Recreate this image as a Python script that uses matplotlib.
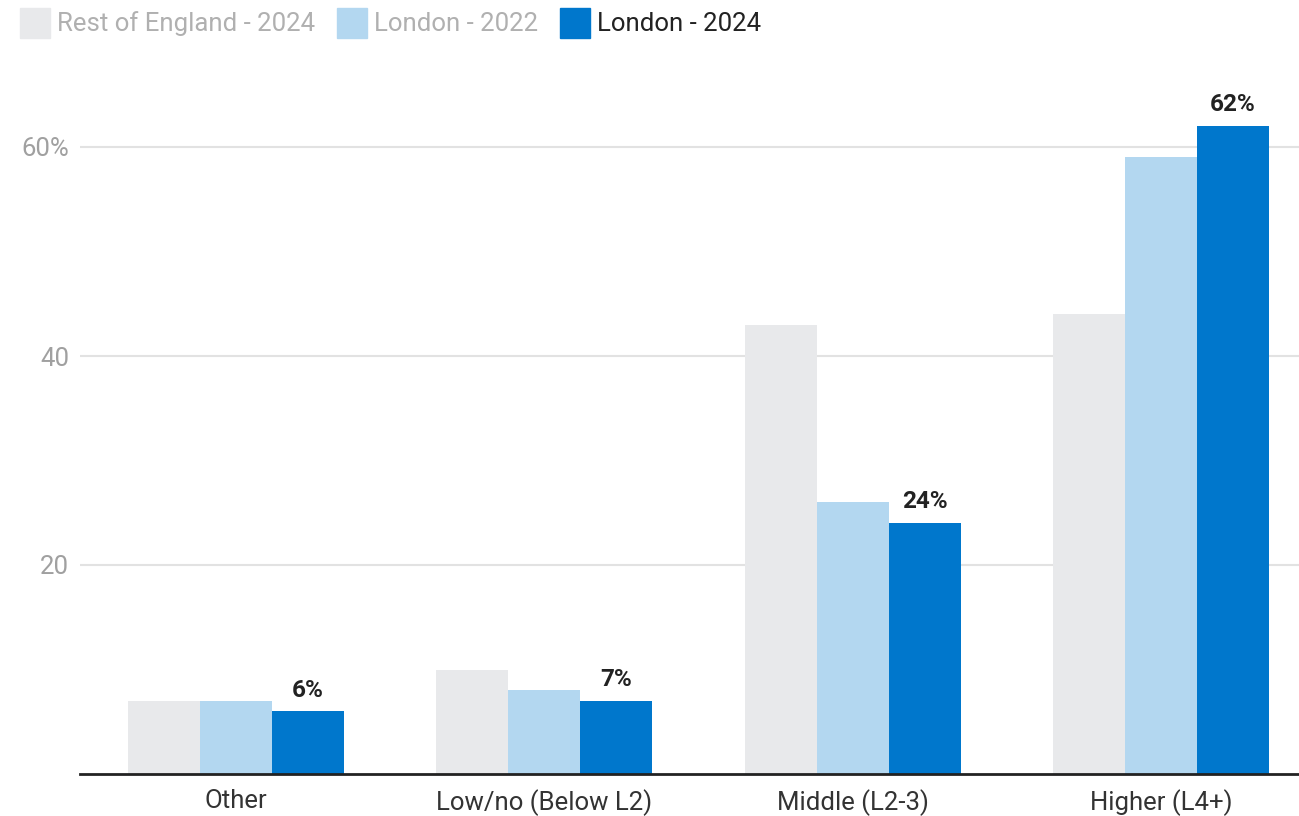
import matplotlib
matplotlib.use("Agg")
import matplotlib.pyplot as plt
from matplotlib.patches import Rectangle
import numpy as np

categories = ["Other", "Low/no (Below L2)", "Middle (L2-3)", "Higher (L4+)"]
series_names = ["Rest of England - 2024", "London - 2022", "London - 2024"]
rest_2024 = [7, 10, 43, 44]
london_2022 = [7, 8, 26, 59]
london_2024 = [6, 7, 24, 62]
yticks = [20, 40, 60]
ytick_labels = ["20", "40", "60%"]

colors = ["#e8e9eb", "#b3d7f0", "#0077cc"]
legend_text_colors = ["#b0b0b0", "#b0b0b0", "#222222"]

plt.rcParams['font.family'] = ['Roboto', 'DejaVu Sans']

W, H = 1299, 816
fig = plt.figure(figsize=(W / 100, H / 100), dpi=100)
ax_left = 80 / W
ax_bottom = (H - 774) / H
ax_top_px = 774 - 66 * 10.45
ax = fig.add_axes([ax_left, ax_bottom, 1 - ax_left, (774 - ax_top_px) / H])

x = np.arange(len(categories))
bw = 0.2335
for i, (vals, c) in enumerate(zip([rest_2024, london_2022, london_2024], colors)):
    ax.bar(x + (i - 1) * bw, vals, width=bw, color=c, zorder=2, linewidth=0)

for xi, v in zip(x, london_2024):
    ax.annotate(f"{v}%", (xi + bw, v), xytext=(0, 7), textcoords="offset points",
                ha="center", va="bottom", fontsize=17.5, fontweight="bold", color="#222222")

ax.set_xlim(-0.506, 3.448)
ax.set_ylim(0, 66)
ax.set_yticks(yticks)
ax.set_yticklabels(ytick_labels)
ax.set_xticks(x)
ax.set_xticklabels(categories)
ax.tick_params(axis="y", length=0, pad=8, labelsize=18.5, labelcolor="#a0a0a0")
ax.tick_params(axis="x", length=0, pad=11, labelsize=18.5, labelcolor="#333333")
ax.grid(axis="y", color="#e2e2e2", linewidth=1.5, zorder=0)
ax.set_axisbelow(True)
for s in ["top", "right", "left"]:
    ax.spines[s].set_visible(False)
ax.spines["bottom"].set_color("#222222")
ax.spines["bottom"].set_linewidth(2)
ax.spines["bottom"].set_zorder(3)

# legend
sq_x = [20, 337, 560]
for name, c, tc, sx in zip(series_names, colors, legend_text_colors, sq_x):
    fig.patches.append(Rectangle((sx / W, (H - 38) / H), 30 / W, 30 / H,
                                 transform=fig.transFigure, color=c))
    fig.text((sx + 37) / W, (H - 24) / H, name, fontsize=18.5, color=tc,
             ha="left", va="center")

fig.savefig("out.png", dpi=100)
